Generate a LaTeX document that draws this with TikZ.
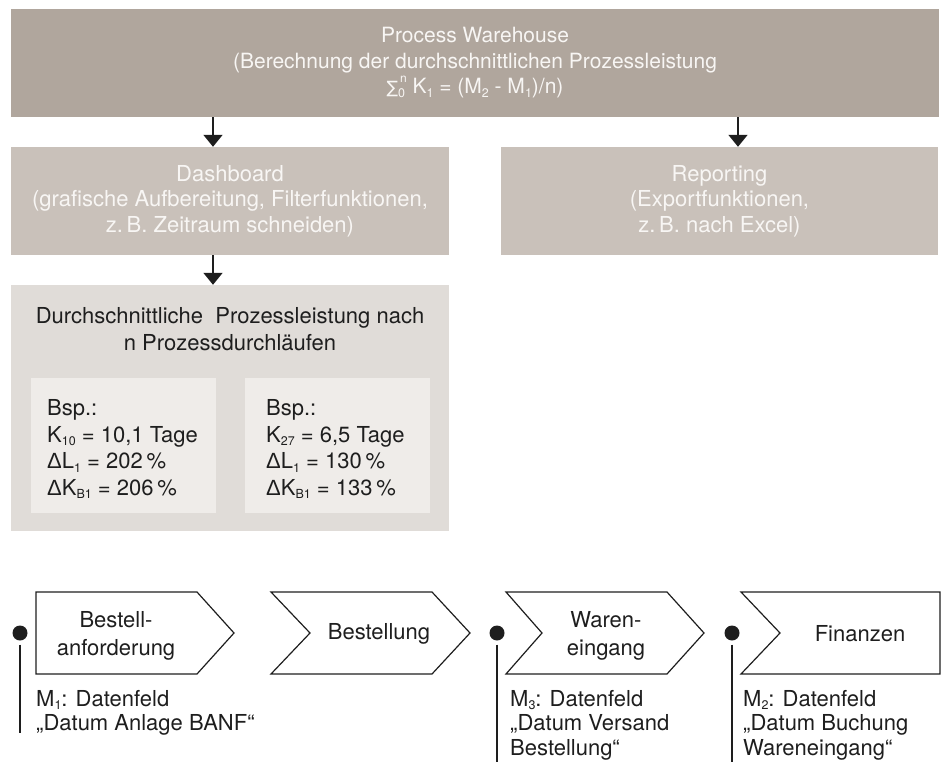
\documentclass[tikz,border=0pt]{standalone}
\usepackage{fontspec}
\setmainfont{TeX Gyre Heros}
\newfontfamily\grkfont{Liberation Sans}
\newfontfamily\opfont{DejaVu Sans}
\usetikzlibrary{arrows.meta}

\definecolor{warehouse}{HTML}{B0A69D}
\definecolor{midbox}{HTML}{C9C1BA}
\definecolor{lightbox}{HTML}{E0DCD8}
\definecolor{innerbox}{HTML}{EFECE9}
\definecolor{boxtext}{HTML}{F8F6F4}
\definecolor{ink}{HTML}{1E1E1E}

% small lowered / raised indices
\newcommand{\lowidx}[1]{\raisebox{-0.15em}{\fontsize{12.5}{12.5}\selectfont #1}}
\newcommand{\highidx}[1]{\raisebox{0.55em}{\fontsize{12}{12}\selectfont #1}}
\newcommand{\Dlt}{{\grkfont Δ}}

\tikzset{
  basefont/.style={font=\fontsize{22}{25.5}\selectfont},
  panel/.style={basefont, inner sep=0pt, align=center, text=boxtext},
  inner/.style={fill=innerbox, inner sep=0pt, minimum width=185pt, minimum height=135pt},
  darktext/.style={basefont, text=ink, inner sep=0pt},
  flow/.style={draw=ink, line width=1.8pt, -{Triangle[width=19pt,length=12pt]}},
  chev/.style={draw=ink, line width=1.2pt, line join=miter},
  dot/.style={circle, fill=ink, minimum size=15pt, inner sep=0pt},
  stem/.style={draw=ink, line width=1.2pt},
}

\begin{document}
\begin{tikzpicture}[x=1pt,y=-1pt]
\useasboundingbox (0,0) rectangle (945,762);

% ---------- upper boxes ----------
\node[panel, fill=warehouse, minimum width=928pt, minimum height=108pt,
      font=\fontsize{21}{25.5}\selectfont] (wh) at (475,63)
  {Process Warehouse\\
   (Berechnung der durchschnittlichen Prozessleistung\\
   {\opfont\fontsize{17}{17}\selectfont ∑}\rlap{\lowidx{0}}\highidx{\,n}\ K\lowidx{1} = (M\lowidx{2} - M\lowidx{1})/n)};

\node[panel, fill=midbox, minimum width=438pt, minimum height=108pt] (dash) at (230,201)
  {Dashboard\\
   (grafische Aufbereitung, Filterfunktionen,\\
   z.\,B. Zeitraum schneiden)};

\node[panel, fill=midbox, minimum width=437pt, minimum height=108pt] (rep) at (719.5,201)
  {Reporting\\
   (Exportfunktionen,\\
   z.\,B. nach Excel)};

\node[fill=lightbox, inner sep=0pt, minimum width=438pt, minimum height=246pt] (avg) at (230,408) {};
\node[darktext, align=center, font=\fontsize{22}{27}\selectfont] (avgtitle) at (230,329)
  {Durchschnittliche~ Prozessleistung nach\\ n Prozessdurchläufen};

\node[inner] (ex1) at (123.5,445.5) {};
\node[inner] (ex2) at (337.5,445.5) {};
\node[darktext, align=left, anchor=west, font=\fontsize{22}{26.7}\selectfont] (ex1t) at (47,449)
  {Bsp.:\\ K\lowidx{10} = 10,1 Tage\\ \Dlt L\lowidx{1} = 202\,\%\\ \Dlt K\lowidx{B1} = 206\,\%};
\node[darktext, align=left, anchor=west, font=\fontsize{22}{26.7}\selectfont] (ex2t) at (266,449)
  {Bsp.:\\ K\lowidx{27} = 6,5 Tage\\ \Dlt L\lowidx{1} = 130\,\%\\ \Dlt K\lowidx{B1} = 133\,\%};

% ---------- arrows ----------
\coordinate (colL) at (213,0);
\coordinate (colR) at (738,0);
\draw[flow] (wh.south -| colL) -- (dash.north -| colL);
\draw[flow] (wh.south -| colR) -- (rep.north -| colR);
\draw[flow] (dash.south -| colL) -- (avg.north -| colL);

% ---------- process chevrons ----------
\draw[chev] (36,592) -- (197,592) -- (234,633) -- (197,674) -- (36,674) -- cycle;
\draw[chev] (271,592) -- (432,592) -- (470,633) -- (432,674) -- (271,674) -- (310,633) -- cycle;
\draw[chev] (506,592) -- (667,592) -- (704,633) -- (667,674) -- (506,674) -- (542,633) -- cycle;
\draw[chev] (741,592) -- (940,592) -- (940,674) -- (741,674) -- (780,633) -- cycle;

\node[darktext, align=center, font=\fontsize{22}{28}\selectfont] (p1) at (116,636) {Bestell-\\anforderung};
\node[darktext] (p2) at (379,634) {Bestellung};
\node[darktext, align=center, font=\fontsize{22}{28}\selectfont] (p3) at (606,636) {Waren-\\eingang};
\node[darktext] (p4) at (860,634) {Finanzen};

% ---------- measuring points ----------
\node[dot] (m1) at (20,633) {};
\node[dot] (m3) at (497,633) {};
\node[dot] (m2) at (732,633) {};
\coordinate (m1end) at (20,733);
\coordinate (m3end) at (497,762);
\coordinate (m2end) at (732,762);
\draw[stem] ([yshift=-4pt]m1.south) -- (m1end);
\draw[stem] ([yshift=-4pt]m3.south) -- (m3end);
\draw[stem] ([yshift=-4pt]m2.south) -- (m2end);

\node[darktext, align=left, anchor=north west, font=\fontsize{22}{24.5}\selectfont] (m1t) at (36,690)
  {M\lowidx{1}: Datenfeld\\ „Datum Anlage BANF“};
\node[darktext, align=left, anchor=north west, font=\fontsize{22}{24.5}\selectfont] (m3t) at (510,690)
  {M\lowidx{3}: Datenfeld\\ „Datum Versand\\ Bestellung“};
\node[darktext, align=left, anchor=north west, font=\fontsize{22}{24.5}\selectfont] (m2t) at (743,690)
  {M\lowidx{2}: Datenfeld\\ „Datum Buchung\\ Wareneingang“};
\end{tikzpicture}
\end{document}
